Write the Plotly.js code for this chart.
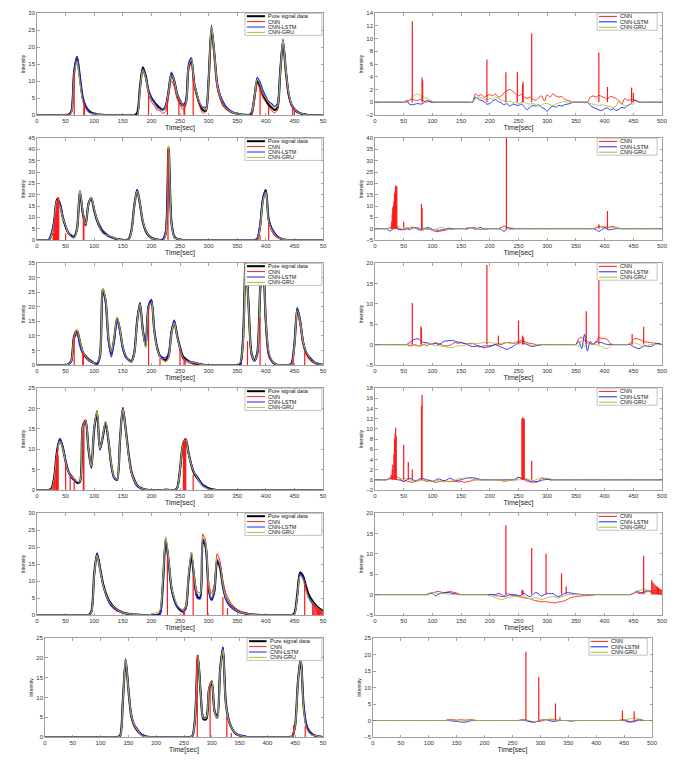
<!DOCTYPE html>
<html><head><meta charset="utf-8">
<script src="https://cdn.plot.ly/plotly-3.0.1.min.js"></script>
<style>html,body{margin:0;padding:0;background:#fff}#chart{width:674px;height:761px}</style>
</head><body><div id="chart"></div>
<script>
// ---------- DATA ----------
const timeSec = [
0,5,10,15,20,25,30,35,40,45,
50,55,60,65,70,75,80,85,90,95,
100,105,110,115,120,125,130,135,140,145,
150,155,160,165,170,175,180,185,190,195,
200,205,210,215,220,225,230,235,240,245,
250,255,260,265,270,275,280,285,290,295,
300,305,310,315,320,325,330,335,340,345,
350,355,360,365,370,375,380,385,390,395,
400,405,410,415,420,425,430,435,440,445,
450,455,460,465,470,475,480,485,490,495,
500];
const seriesNames = ['Pure signal data','CNN','CNN-LSTM','CNN-GRU'];
const xTickVals = [0,50,100,150,200,250,300,350,400,450,500];
const xTickTextLeft = ['0','50','100','150','200','250','300','350','400','450','50'];

// Row 1
const pure1 = [
0,0,0,0,0,0,0,0,0,0,
0,0.1,1.0,12.7,17,11,5,2.6,1.3,0.7,
0.4,0.2,0.1,0.05,0,0,0,0,0,0,
0,0,0,0,0,0.5,8,14,11.5,7,
5,3.8,2.8,2,1.5,2.5,7,12,10,6,
4,2.8,3.5,14,16,9,5.5,3,1.5,1.2,
10,25.5,18,9,5.5,3.5,2.2,1.4,0.9,0.6,
0.4,0.2,0.1,0.05,0,0.5,5,10,8.5,6,
4.5,3,2.2,1.5,2,12,21.5,13,6,3,
1.8,1,0.5,0.3,0.1,0,0,0,0,0,
0];
const cnnErr1 = [
0,0,0,0,0,0,0,0,0,0,
0,0,0.3,0.5,0.3,0.3,0.5,0.2,0,0.2,
0,0,0,0,0,0,0,0,0,0,
0,0,0,0,0,1.3,1.0,1.2,0.8,1.0,
1.2,1.0,1.3,0.8,1.0,1.5,1.8,2.0,1.7,1.3,
1.0,1.2,0.8,0.6,0.8,0.5,0.3,0.7,1.0,0.2,
1.2,0.8,1.3,1.0,0.8,0.9,0.5,0.3,0.2,0,
0,0,0,0,0,0.8,1.0,0.8,1.1,0.9,
0.7,0.5,0.9,0.8,0.6,0.2,-0.3,0.6,0.3,0.4,
0.5,0.2,0,0,0,0,0,0,0,0,
0];
const lstmErr1 = [
0,0,0,0,0,0,0,0,0,0,
0,0.3,-0.3,-0.4,-0.3,-0.2,-0.3,-0.1,0.3,0.1,
0,0,0,0,0,0,0,0,0,0,
0,0,0,0,0,0.8,0.5,0.3,0.1,-0.3,
-0.2,0.2,0.4,0.1,-0.1,-0.4,-0.2,-0.6,-0.3,-0.4,
-0.5,-0.3,-0.7,-1.2,-0.8,-0.5,-0.6,-0.4,-0.8,-1.0,
-1.4,-0.9,-0.6,-0.8,-0.5,-0.6,-0.4,-0.3,-0.2,0,
0,0,0,0,0,-0.5,-0.8,-1.0,-1.2,-1.3,
-1.0,-0.9,-1.2,-1.0,-1.3,-1.1,-0.8,-0.9,-0.5,-0.3,
0.2,0.3,0,0,0,0,0,0,0,0,
0];
const gruErr1 = [
0,0,0,0,0,0,0,0,0,0,
0,0.2,0.4,0.8,1.2,1.3,1.0,0.8,0.6,0.4,
0.1,0,0,0,0,0,0,0,0,0,
0,0,0,0,0,0.6,0.8,0.7,0.5,0.4,
0.6,0.5,0.8,0.6,0.3,0.2,0.1,0.2,-0.1,0,
-0.2,0,0.1,-0.2,-0.3,-0.2,-0.4,-0.6,-0.5,-0.2,
-0.2,-0.4,-0.5,-0.3,-0.1,0,0.1,0,0,0,
0,0,0,0,0,-0.2,-0.3,-0.4,-0.5,-0.4,
-0.5,-0.6,-0.7,-0.8,-0.6,0.3,-0.3,-0.5,-0.6,-0.3,
-0.3,0.1,0,0,0,0,0,0,0,0,
0];
const spikeT1 = [65,82,83,195,228,248,257,258,273,390,405,447,450];
const spikeH1 = [12.7,3.9,3.4,6.7,4.7,4.8,2.8,3.2,10.8,7.8,2.4,2.3,1.5];

// Row 2
const pure2 = [
0,0,0,0,0,2,8,18,16,10,
6,3,1.8,1.5,5,21.5,12,6.5,16,18.5,
13,8.5,5.5,3.5,2.5,1.8,1.3,0.8,0.4,0.2,
0,0,0.3,4,15,22,16,8,4,2,
1,0.5,0.2,0,0.2,3,41,8,1.5,0.5,
0.2,0,0,0,0,0,0,0,0,0,
0,0,0,0,0,0,0,0,0,0,
0,0,0,0,0,0,0,0.3,6,18,
22,9,5,3,1.5,0.8,0.3,0.1,0,0,
0,0,0,0,0,0,0,0,0,0,
0];
const cnnErr2 = [
0,0,0,0,0,0.3,0.5,0.8,0.3,-0.3,
-0.5,-0.3,0.3,0.5,0.2,-0.3,-0.5,0.3,-0.3,-0.2,
-0.8,-1.2,-1.3,-1.0,-0.8,-0.5,-0.2,-0.3,0,0,
0,0,-0.2,0.3,0.5,0.3,-0.2,-0.4,-0.2,0,
0,0,0,0,0.5,1.2,0.5,-0.3,0.2,0,
0,0,0,0,0,0,0,0,0,0,
0,0,0,0,0,0,0,0,0,0,
0,0,0,0,0,0,0,0.5,1.0,0.8,
0.5,0.3,0.8,1.0,0.5,0.2,0,0,0,0,
0,0,0,0,0,0,0,0,0,0,
0];
const lstmErr2 = [
0,0,0,0,0,-1.0,-0.5,0.5,-0.3,-0.5,
-0.3,0.3,-0.5,0.2,0.5,0.3,-0.3,-0.5,0.5,0.3,
-0.3,-0.5,-0.8,-0.6,-0.3,0,0.2,0,0,0,
0,0,0,0.5,0.3,-0.3,0.3,0.5,-0.3,-0.2,
0,0,0,0,-0.3,-1.3,0.5,0.3,-0.2,0,
0,0,0,0,0,0,0,0,0,0,
0,0,0,0,0,0,0,0,0,0,
0,0,0,0,0,0,0,-0.5,-1.2,-0.5,
0.3,-0.3,-0.5,-0.2,0,0,0,0,0,0,
0,0,0,0,0,0,0,0,0,0,
0];
const gruErr2 = [
0,0,0,0,0,0.2,0.8,0.5,1.0,0.3,
-0.5,0.3,0.5,0.8,0.3,-0.5,-0.8,-0.5,0.2,-0.3,
-0.5,-0.3,0.2,0.5,0.3,-0.2,-0.3,-0.1,0,0,
0,0,0.3,0.5,0.2,0.4,-0.2,-0.5,-0.3,0,
0,0,0,0,0.5,0.8,-0.5,0.5,0.2,0,
0,0,0,0,0,0,0,0,0,0,
0,0,0,0,0,0,0,0,0,0,
0,0,0,0,0,0,0,0.3,0.5,0.8,
1.0,0.8,0.5,0.3,0.2,0,0,0,0,0,
0,0,0,0,0,0,0,0,0,0,
0];
const spikeT2 = [28,29,30,31,32,33,34,35,36,37,38,50,81,82,229,390,405];
const spikeH2 = [1,3,6.5,9.5,10,12,15.5,16.5,19,18.5,18.7,3,11,9,40,2,7.8];

// Row 3
const pure3 = [
0,0,0,0,0,0,0,0,0,0,
0,0.3,1.5,10,11.8,8,4.5,3,2,1.2,
0.7,0.6,3,26,22,9,3.8,9,16,12,
6,3,1.8,1.2,4,15,21,12,6.5,20,
22,12,6,3,2,1.6,3,11,15,10,
6,3,2,1.3,0.8,0.5,0.4,0.2,0.1,0,
0,0,0,0,0,0,0,0,0,0,
0,0.3,8,37,20,4,1.5,4,25,38,
15,4,1.5,0.5,0.1,0,0,0,0,0.5,
7,19,15,8,4.5,2.8,1.6,0.9,0.5,0.2,
0.1];
const cnnErr3 = [
0,0,0,0,0,0,0,0,0,0,
0,0,-0.3,-0.2,0,-0.3,-0.3,0,-0.2,0,
0.2,0.3,0.3,0,-0.3,-0.3,-0.2,0.2,0.5,0.3,
0.5,0.3,0.2,0.3,0.3,0,-0.5,-0.5,-0.3,-0.3,
-0.3,-0.2,0,0.2,0,0.3,0.5,0.5,0.3,0.5,
0.8,1.0,0.8,0.5,0.3,0.2,0,-0.2,0,0,
0,0,0,0,0,0,0,0,0,0,
0,1.5,1.8,1.0,0.8,0.3,0,0.5,1.8,1.5,
1.5,1.2,0.3,0,0,0,0,0,0,0.3,
1.2,1.5,1.3,1.0,0.7,0.6,0.5,0.4,0.3,0.2,
0];
const lstmErr3 = [
0,0,0,0,0,0,0,0,0,0,
0,0,0.5,1.0,1.3,1.5,0.8,0.5,0.5,0.2,
0,0.5,0,0.3,0.8,0.9,1.0,1.0,0.8,0.6,
0.5,0.3,0,-0.3,-0.5,-0.4,-0.3,-0.5,-0.8,-0.6,
-0.5,-0.2,0,-0.3,-0.6,-0.9,-1.2,-0.8,-0.5,0,
0.5,0.6,0.3,0,-0.3,-0.5,-0.3,-0.2,0,0,
0,0,0,0,0,0,0,0,0,0,
0,0.8,-1.0,2.5,-1.5,0.8,0,0.8,0.5,0.5,
0.2,0,0,0,0,0,0,0,0,0,
-0.5,-0.8,-1.0,-0.6,-0.3,-0.4,-0.5,-0.2,0.3,0.2,
0];
const gruErr3 = [
0,0,0,0,0,0,0,0,0,0,
0,0,0.1,0.2,-0.3,-0.3,-0.3,0,0.3,0.1,
0,-0.3,-0.2,-0.4,-0.5,-0.6,-0.8,-0.7,-0.5,-0.3,
-0.3,-0.2,0,0.1,0.2,0.3,0.3,0.4,0.5,0.4,
0.5,0.4,0.3,0.2,0.3,0.5,0.5,0.3,0.4,0.3,
0.3,0.4,0.5,0.3,-0.1,-0.3,-0.2,0,0,0,
0,0,0,0,0,0,0,0,0,0,
0,-0.5,1.0,-0.5,0.3,0,0,0,-0.3,-0.5,
-0.8,-1.0,-0.3,0,0,0,0,0,0,0.3,
0.5,0.3,0,-0.3,-0.5,-0.2,0,0,0,0,
0];
const spikeT3 = [65,80,81,195,215,250,257,259,368,390,448,468];
const spikeH3 = [10.2,4.5,4,19.5,2.2,5.9,2.2,1.8,8.2,16.5,2.6,4.4];

// Row 4
const pure4 = [
0,0,0,0,0,0.3,3,9.5,12.5,10.5,
7,4.5,3.3,2.5,1.8,2,15.5,17,10,5.5,
15,19,10,13,16.5,12,6,3,2.5,12,
20,15,9,4.5,2.5,1.2,0.6,0.3,0.1,0,
0,0,0,0,0,0,0,0,0,0.5,
5,11,12.5,9,6,4,3,2,1.2,0.8,
0.4,0.2,0.1,0,0,0,0,0,0,0,
0,0,0,0,0,0,0,0,0,0,
0,0,0,0,0,0,0,0,0,0,
0,0,0,0,0,0,0,0,0,0,
0];
const cnnErr4 = [
0,0,0,0,0,0.2,0.3,0.4,0.5,0,
-0.3,-0.2,-0.4,-0.5,-0.3,-0.2,0,-0.1,-0.3,-0.2,
-0.3,-0.5,-0.4,-0.3,-0.2,-0.3,-0.4,-0.3,-0.3,-0.4,
-0.3,-0.5,-0.4,-0.3,-0.1,0,0,0,0,0,
0,0,0,0,-0.1,-0.3,-0.2,0,0,0.2,
0.5,0.2,0,-0.3,-0.4,-0.5,-0.4,-0.3,0.3,0.2,
0.2,0,0,0,0,0,0,0,0,0,
0,0,0,0,0,0,0,0,0,0,
0,0,0,0,0,0,0,0,0,0,
0,0,0,0,0,0,0,0,0,0,
0];
const lstmErr4 = [
0,0,0,0,0,0.3,0.5,0.2,0,-0.1,
-0.3,0,0.3,0.1,-0.2,0,0.3,0.2,0,-0.1,
-0.3,-0.1,0.2,0,-0.2,0,0.3,0.1,-0.2,-0.1,
0,0.2,0.3,0.4,0.4,0.3,0.2,0,0,0,
0,0,0,0,0,0,0,0,0,0,
0.5,0.3,0.2,0,-0.3,-0.2,-0.4,-0.3,-0.1,0,
0.1,0,0,0,0,0,0,0,0,0,
0,0,0,0,0,0,0,0,0,0,
0,0,0,0,0,0,0,0,0,0,
0,0,0,0,0,0,0,0,0,0,
0];
const gruErr4 = [
0,0,0,0,0,0.2,0.4,0.7,0.5,0.3,
0.2,0.2,0,-0.2,-0.3,-0.1,0.1,0,-0.2,-0.3,
-0.3,-0.2,-0.2,-0.3,-0.4,-0.3,-0.3,-0.2,0,0.2,
0.2,0.3,0.4,0.3,0.1,0,0,0,0,0,
0,0,0,0,0,-0.1,-0.2,0,0,0,
0,0,0.1,0.2,0,-0.2,0,0.2,0.4,0.3,
0.3,0.2,0,0,0,0,0,0,0,0,
0,0,0,0,0,0,0,0,0,0,
0,0,0,0,0,0,0,0,0,0,
0,0,0,0,0,0,0,0,0,0,
0];
const spikeT4 = [28,30,31,33,34,35,36,37,50,58,65,81,82,256,257,258,259,260,273];
const spikeH4 = [1,2,3,5,8,9,10.2,8.5,6.8,3.5,2,14.5,16.7,12,12.2,12,11.8,12,3.7];

// Row 5
const pure5 = [
0,0,0,0,0,0,0,0,0,0,
0,0,0,0,0,0,0,0,0,1,
12,18,14,9.5,6.5,4.5,3.2,2.3,1.6,1.1,
0.7,0.5,0.35,0.25,0.15,0.1,0.05,0,0,0,
0,0,0,0.5,9,22,16,8,4.5,2.5,
1.5,1,2,11,17.5,10.5,5.5,5,22,20,
8,4.5,7,16,14,8.5,5,3.5,2.5,1.8,
1.2,0.8,0.6,0.4,0.25,0.15,0.1,0.05,0,0,
0,0,0,0,0,0,0,0,0,0,
0.5,6,12.5,11.5,8.5,6,4.5,3.3,2.4,1.7,
1.2];
const cnnErr5 = [
0,0,0,0,0,0,0,0,0,0,
0,0,0,0,0,0,0,0,0,0.3,
0.5,0.6,0.8,0.6,0.5,0.6,0.8,0.6,0.5,0.2,
0,0,0,0,0,0,0,0,0,0,
0,0,-0.3,-0.3,-0.5,-0.3,0.3,0,-0.3,-0.2,
-0.5,-0.6,-0.8,-0.9,-1.0,-1.3,-1.5,-1.6,-1.8,-1.7,
-1.8,-1.9,-2.0,-2.0,-1.8,-1.7,-1.5,-1.2,-0.8,-0.6,
-0.5,-0.4,-0.3,-0.3,-0.2,-0.2,-0.1,0,0,0,
0,0,0,0,0,0,0,0,0,0,
0.3,0.5,0.3,0.3,0.5,0.8,0.9,1.0,1.0,1.0,
0.8];
const lstmErr5 = [
0,0,0,0,0,0,0,0,0,0,
0,0,0,0,0,0,0,0,0,0.2,
0.3,-0.3,0,0.3,0.4,0.5,0.5,0.3,0.2,0,
0,0,0,0,0,0,0,0,0,0,
0,0,0,0.3,0,-0.5,-0.3,0,0,0,
-0.3,-0.2,0.3,-0.2,-0.5,0,0.5,0.2,-0.3,0,
0.3,0.2,0.3,-0.2,-0.5,-0.2,0.3,0.5,0.4,0.3,
0.2,0.1,0,0,0,0,0,0,0,0,
0,0,0,0,0,0,0,0,0,0,
0.3,0.8,0.6,0.5,0.8,1.0,0.7,0.5,0.4,0.3,
0.3];
const gruErr5 = [
0,0,0,0,0,0,0,0,0,0,
0,0,0,0,0,0,0,0,0,0.2,
0.5,0.4,0.3,0.3,0.2,0.2,0.1,0,0,0,
0,0,0,0,0,0,0,0,0,0,
-0.3,-0.5,-0.8,-1.0,-1.3,-1.0,-0.8,-0.6,-0.5,-0.5,
-0.5,-0.3,-0.3,-0.8,-1.0,-0.8,-0.8,-1.0,-1.2,-1.0,
-0.8,-0.6,-0.5,-0.6,-0.8,-0.5,-0.3,-0.1,0,0,
0,0,0,0,0,0,0,0,0,0,
0,0,0,0,0,0,0,0,0,0,
0.3,0.8,1.0,1.2,1.3,1.0,0.5,0.3,0.2,0.2,
0.2];
const spikeT5 = [228,256,257,258,273,298,325,333,468,482,484,486,488,490,492,494,496,498,500];
const spikeH5 = [17,1,1.2,0.8,11.4,10,5.2,2,9.5,3.6,3,2.7,2.4,2.1,1.9,1.7,1.5,1.3,1.2];

// Row 6
const pure6 = [
0,0,0,0,0,0,0,0,0,0,
0,0,0,0,0,0,0,0,0,0,
0,0,0,0,0,0,0,0.3,9,19.5,
12,5.5,3,1.8,1,0.5,0.2,0.05,0,0,
0,0,0,0,0,0,0,0,0,0,
0,0,0,0.2,5,20.5,11,4.5,4.5,12,
14,6.5,5,17,22.5,9,4.5,2.5,1.3,0.7,
0.4,0.2,0.1,0,0,0,0,0,0,0,
0,0,0,0,0,0,0,0,0,0.2,
3,14,20,8,3,1.5,0.8,0.4,0.2,0.1,
0];
const cnnErr6 = [
0,0,0,0,0,0,0,0,0,0,
0,0,0,0,0,0,0,0,0,0,
0,0,0,0,0,0,0,0.3,0.3,0.2,
0.1,0.2,0.2,0.1,0.2,0.3,0.2,0,0,0,
0,0,0,0,0,0,0,0,0,0,
0,0,0,0.2,0.3,0.1,-0.3,-0.5,-0.4,-0.3,
-0.3,0,0.2,0.3,0.2,0.2,0.1,0,0,0,
0,0,0,0,0,0,0,0,0,0,
0,0,0,0,0,0,0,0,0,0.2,
0.3,0,-0.3,-0.2,0,0.2,0,0,0,0,
0];
const lstmErr6 = [
0,0,0,0,0,0,0,0,0,0,
0,0,0,0,0,0,0,0,0,0,
0,0,0,0,0,0,0,0,-0.1,-0.2,
-0.3,-0.4,-0.5,-0.5,-0.3,-0.1,0,0,0,0,
0,0,0,0,0,0,0,0,0,0,
0,0,0,0,0.1,-0.1,-0.3,-0.4,-0.5,-0.2,
0.1,0.2,0.3,0,-0.2,-0.3,-0.1,0,0,0,
-0.1,-0.2,-0.1,0,0,0,0,0,0,0,
0,0,0,0,0,0,0,0,0,0,
0,-0.3,-0.5,-0.4,-0.3,0.1,0.3,0,0,0,
0];
const gruErr6 = [
0,0,0,0,0,0,0,0,0,0,
0,0,0,0,0,0,0,0,0,0,
0,0,0,0,0,0,0,0.1,0.2,0.1,
-0.1,-0.2,-0.3,-0.2,0,0.2,0.1,0,0,0,
0,0,0,0,0,0,0,0,0,0,
0,0,0,0,0.2,0.1,0,-0.2,-0.3,-0.2,
0,0.2,0.3,0.4,0.5,0.3,0.1,0,0,0,
0,0,0,0,0,0,0,0,0,0,
0,0,0,0,0,0,0,0,0,0,
0.2,0.3,0.5,0.7,0.8,0.5,0.3,0,0,0,
0];
const spikeT6 = [274,297,327,335,447,468];
const spikeH6 = [20.8,13.2,5.2,1,3,2.8];

// ---------- CHART ----------
const rows = [
  {pure:pure1,cnn:cnnErr1,lstm:lstmErr1,gru:gruErr1,st:spikeT1,sh:spikeH1},
  {pure:pure2,cnn:cnnErr2,lstm:lstmErr2,gru:gruErr2,st:spikeT2,sh:spikeH2},
  {pure:pure3,cnn:cnnErr3,lstm:lstmErr3,gru:gruErr3,st:spikeT3,sh:spikeH3},
  {pure:pure4,cnn:cnnErr4,lstm:lstmErr4,gru:gruErr4,st:spikeT4,sh:spikeH4},
  {pure:pure5,cnn:cnnErr5,lstm:lstmErr5,gru:gruErr5,st:spikeT5,sh:spikeH5},
  {pure:pure6,cnn:cnnErr6,lstm:lstmErr6,gru:gruErr6,st:spikeT6,sh:spikeH6}
];
const leftRange = [[0,30],[0,45],[0,35],[0,25],[0,30],[0,25]];
const rightRange = [[-2,14],[-5,40],[-5,20],[-2,18],[-5,20],[-5,25]];
const rightDtick = [2,5,5,2,5,5];

const W = 674, H = 761;
const rowTop = [13,138,263,388,513,638];
const rowBot = [115,240,365,490,615,737];
const leftXpx = r => r === 5 ? [45,323] : [37,323];
const rightXpx = r => r === 5 ? [373,652] : [375,662];

const FONT = '"Liberation Sans", Arial, sans-serif';
const C = {pure:'#000000', cnn:'#ff1a1a', lstm:'#1f1fff', gru:'#9ec43a'};

rows.forEach(r => {
  ['pure','cnn','lstm','gru'].forEach(k => {
    if (r[k].length !== timeSec.length) console.error('length mismatch', k, r[k].length);
  });
});

const traces = [];
const layout = {
  width: W, height: H, margin: {l:0,r:0,t:0,b:0},
  paper_bgcolor:'#fff', plot_bgcolor:'#fff', showlegend:false,
  font:{family:FONT, color:'#262626'},
  shapes: [], annotations: []
};

function axisBase() {
  return {
    showline:true, mirror:'ticks', linecolor:'#8a8a8a', linewidth:0.8,
    ticks:'inside', ticklen:2.5, tickwidth:0.6, tickcolor:'#666',
    showgrid:false, zeroline:false, fixedrange:true,
    tickfont:{family:FONT, size:6, color:'#333'}
  };
}
function spikeXY(t, h) {
  const xs = [], ys = [];
  t.forEach((v,i) => { xs.push(v, v, null); ys.push(0, h[i], null); });
  return {xs, ys};
}
// legend drawn with shapes/annotations; vertical placement given in px from the plot top
function addLegend(xa, ya, plotH, names, colors, widths, boxX, boxPx, lineX, textX, entryPx) {
  const xr = xa + ' domain', yr = ya + ' domain';
  const f = px => 1 - px / plotH;
  layout.shapes.push({type:'rect', xref:xr, yref:yr, x0:boxX[0], x1:boxX[1], y0:f(boxPx[1]), y1:f(boxPx[0]),
    line:{color:'#9a9a9a', width:0.6}, fillcolor:'#ffffff', layer:'above'});
  names.forEach((n,i) => {
    const y = f(entryPx[i]);
    layout.shapes.push({type:'line', xref:xr, yref:yr, x0:lineX[0], x1:lineX[1], y0:y, y1:y,
      line:{color:colors[i], width:widths[i]}, layer:'above'});
    layout.annotations.push({xref:xr, yref:yr, x:textX, y:y, text:n, showarrow:false,
      xanchor:'left', yanchor:'middle', font:{family:FONT, size:5.5, color:'#111'}, borderpad:0});
  });
}

rows.forEach((r, i) => {
  const li = 2*i + 1, ri = 2*i + 2;
  const lx = li === 1 ? 'x' : 'x' + li, ly = li === 1 ? 'y' : 'y' + li;
  const rx = 'x' + ri, ry = 'y' + ri;
  const yDom = [1 - rowBot[i]/H, 1 - rowTop[i]/H];
  const plotH = rowBot[i] - rowTop[i];
  const lpx = leftXpx(i), rpx = rightXpx(i);

  // left panel: signal and predictions
  const predCnn = r.pure.map((p,k) => p - r.cnn[k]);
  const predLstm = r.pure.map((p,k) => p - r.lstm[k]);
  const predGru = r.pure.map((p,k) => p - r.gru[k]);
  const sp = spikeXY(r.st, r.sh);
  traces.push({x:timeSec, y:r.pure, xaxis:lx, yaxis:ly, mode:'lines', name:seriesNames[0],
    line:{color:C.pure, width:2.2, shape:'spline', smoothing:0.8}, hoverinfo:'skip'});
  traces.push({x:timeSec, y:predCnn, xaxis:lx, yaxis:ly, mode:'lines', name:seriesNames[1],
    line:{color:C.cnn, width:1, shape:'spline', smoothing:0.8}, hoverinfo:'skip'});
  traces.push({x:timeSec, y:predLstm, xaxis:lx, yaxis:ly, mode:'lines', name:seriesNames[2],
    line:{color:C.lstm, width:1.3, shape:'spline', smoothing:0.8}, hoverinfo:'skip'});
  traces.push({x:timeSec, y:predGru, xaxis:lx, yaxis:ly, mode:'lines', name:seriesNames[3],
    line:{color:C.gru, width:1, shape:'spline', smoothing:0.8}, hoverinfo:'skip'});
  traces.push({x:sp.xs, y:sp.ys, xaxis:lx, yaxis:ly, mode:'lines', name:'CNN',
    line:{color:C.cnn, width:1.2}, hoverinfo:'skip', connectgaps:false});

  // right panel: errors
  traces.push({x:timeSec, y:r.cnn, xaxis:rx, yaxis:ry, mode:'lines', name:seriesNames[1],
    line:{color:C.cnn, width:0.9, shape:'spline', smoothing:0.8}, hoverinfo:'skip'});
  traces.push({x:timeSec, y:r.lstm, xaxis:rx, yaxis:ry, mode:'lines', name:seriesNames[2],
    line:{color:C.lstm, width:0.9, shape:'spline', smoothing:0.8}, hoverinfo:'skip'});
  traces.push({x:timeSec, y:r.gru, xaxis:rx, yaxis:ry, mode:'lines', name:seriesNames[3],
    line:{color:C.gru, width:0.9, shape:'spline', smoothing:0.8}, hoverinfo:'skip'});
  traces.push({x:sp.xs, y:sp.ys, xaxis:rx, yaxis:ry, mode:'lines', name:'CNN',
    line:{color:C.cnn, width:1.2}, hoverinfo:'skip', connectgaps:false});

  const xTitle = {text:'Time[sec]', font:{family:FONT, size:7, color:'#222'}, standoff:1};
  const yTitle = {text:'Intensity', font:{family:FONT, size:5, color:'#222'}, standoff:2};

  const lxa = Object.assign(axisBase(), {domain:[lpx[0]/W, lpx[1]/W], anchor:ly, range:[0,500],
    tickmode:'array', tickvals:xTickVals, ticktext:xTickTextLeft, title:xTitle});
  const lya = Object.assign(axisBase(), {domain:yDom, anchor:lx, range:leftRange[i], dtick:5, tick0:0, title:yTitle});
  const rxa = Object.assign(axisBase(), {domain:[rpx[0]/W, rpx[1]/W], anchor:ry, range:[0,500],
    tickmode:'array', tickvals:xTickVals, title:xTitle});
  const rya = Object.assign(axisBase(), {domain:yDom, anchor:rx, range:rightRange[i], dtick:rightDtick[i], tick0:0, title:yTitle});

  layout[li === 1 ? 'xaxis' : 'xaxis' + li] = lxa;
  layout[li === 1 ? 'yaxis' : 'yaxis' + li] = lya;
  layout['xaxis' + ri] = rxa;
  layout['yaxis' + ri] = rya;

  // legends
  addLegend(lx, ly, plotH, seriesNames, [C.pure, C.cnn, C.lstm, C.gru], [2, 1, 1, 1],
    [0.727, 0.996], [0.4, 22.4], [0.734, 0.797], 0.804, [3.2, 8.6, 14.0, 19.4]);
  addLegend(rx, ry, plotH, seriesNames.slice(1), [C.cnn, C.lstm, C.gru], [1, 1, 1],
    [0.774, 0.983], [0.2, 17.2], [0.780, 0.843], 0.850, [3.4, 8.8, 14.2]);
});

Plotly.newPlot('chart', traces, layout, {staticPlot:true, displayModeBar:false});
</script>
</body></html>
